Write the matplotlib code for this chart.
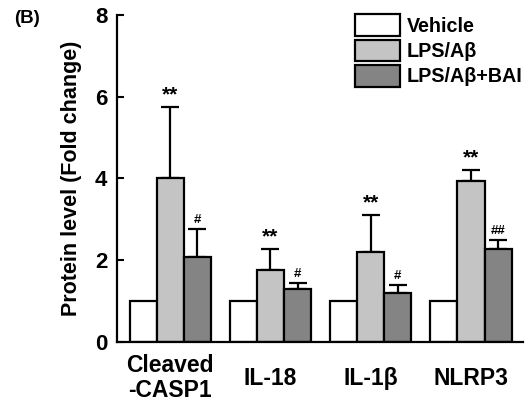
"""
Protein level bar chart (panel B) with error bars and significance marks
"""

import numpy as np
import matplotlib
matplotlib.use('Agg')
import matplotlib.pyplot as plt
from matplotlib.patches import Patch

plt.rcParams['font.family'] = ['Liberation Sans', 'DejaVu Sans']
plt.rcParams['font.weight'] = 'bold'

# data
categories = ['Cleaved\n-CASP1', 'IL-18', 'IL-1β', 'NLRP3']
series_names = ['Vehicle', 'LPS/Aβ', 'LPS/Aβ+BAI']
vehicle = [1.0, 1.0, 1.0, 1.0]
lps = [4.02, 1.77, 2.20, 3.95]
lps_err = [1.72, 0.50, 0.90, 0.25]
bai = [2.07, 1.30, 1.20, 2.28]
bai_err = [0.69, 0.14, 0.20, 0.21]
lps_marks = ['**', '**', '**', '**']
bai_marks = ['#', '#', '#', '##']
yticks = [0, 2, 4, 6, 8]

colors = ['white', '#c4c4c4', '#848484']


def plot_bars(ax):
    """Draws the grouped bars"""
    x = np.arange(len(categories))
    width = 0.27
    values = [vehicle, lps, bai]
    errors = [None, lps_err, bai_err]
    marks = [None, lps_marks, bai_marks]
    sizes = [None, 15, 9.5]
    for i, (vals, err, col) in enumerate(zip(values, errors, colors)):
        pos = x + (i - 1) * width
        ax.bar(pos, vals, width, color=col, edgecolor='black', linewidth=1.6,
               zorder=2)
        if err is None:
            continue
        ax.errorbar(pos, vals, yerr=[np.zeros(len(err)), err], fmt='none',
                    ecolor='black', elinewidth=1.6, capsize=6.5, capthick=1.6,
                    zorder=1)
        for p, v, e, m in zip(pos, vals, err, marks[i]):
            ax.annotate(m, (p, v + e), xytext=(0, 2), textcoords='offset points',
                        ha='center', va='bottom', fontsize=sizes[i],
                        fontweight='bold')
    return x


fig = plt.figure(figsize=(5.3, 4.05), dpi=100)
ax = fig.add_axes([0.2208, 0.1556, 0.7662, 0.8074])

x = plot_bars(ax)

ax.set_xlim(-0.53, 3.52)
ax.set_ylim(0, 8)
ax.set_yticks(yticks)
ax.set_yticklabels([str(t) for t in yticks], fontsize=16, fontweight='bold')
ax.set_xticks(x)
ax.set_xticklabels(categories, fontsize=16.5, fontweight='bold', va='center',
                   linespacing=1.15)
ax.tick_params(axis='x', length=0, pad=26)
ax.tick_params(axis='y', direction='in', length=5, width=1.5, pad=7)
for side in ['top', 'right']:
    ax.spines[side].set_visible(False)
for side in ['left', 'bottom']:
    ax.spines[side].set_linewidth(1.6)

ax.set_ylabel('Protein level (Fold change)', fontsize=15.5, fontweight='bold',
              labelpad=9)

handles = [Patch(facecolor=c, edgecolor='black', linewidth=1.6) for c in colors]
ax.legend(handles, series_names, loc='upper left',
          bbox_to_anchor=(0.670, 0.965), bbox_transform=fig.transFigure,
          frameon=False, handlelength=2.28, handleheight=1.3,
          labelspacing=0.2, handletextpad=0.33, borderpad=0, borderaxespad=0,
          prop={'weight': 'bold', 'size': 14.2})

fig.text(0.027, 0.955, '(B)', fontsize=13.5, fontweight='bold', va='center')

fig.savefig('out.png', dpi=100)
